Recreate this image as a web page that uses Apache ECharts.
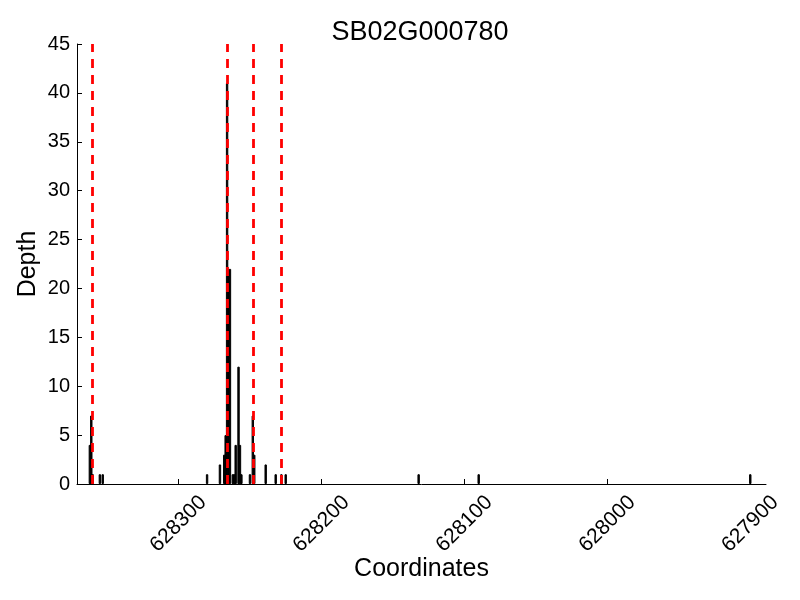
<!DOCTYPE html>
<html>
<head>
<meta charset="utf-8">
<script src="https://cdn.jsdelivr.net/npm/echarts@6/dist/echarts.min.js"></script>
<style>html,body{margin:0;padding:0;background:#fff}#c{width:800px;height:600px}</style>
</head>
<body>
<div id="c"></div>
<script>
const title = 'SB02G000780';
const positions = [628362, 628361, 628360, 628355, 628353, 628280, 628271, 628268, 628267, 628266, 628265, 628264, 628262, 628261, 628260, 628258, 628257, 628256, 628250, 628248, 628247, 628239, 628232, 628228, 628225, 628132, 628090, 627900];
const depths    = [4, 7, 1, 1, 1, 1, 2, 3, 5, 41, 22, 22, 1, 1, 4, 12, 4, 1, 1, 7, 3, 2, 1, 1, 1, 1, 1, 1];
const boundaries = [628360, 628266, 628248, 628228];
const xTicks = [628300, 628200, 628100, 628000, 627900];
const xMin = 627889, xMax = 628371;
const yMax = 45, yStep = 5;

const font = 'Liberation Sans';
const chart = echarts.init(document.getElementById('c'), null, {renderer: 'canvas'});
chart.setOption({
  animation: false,
  backgroundColor: '#fff',
  title: {
    text: title, left: 415, top: 14, textAlign: 'center',
    textStyle: {fontFamily: font, fontSize: 27, fontWeight: 'normal', color: '#000'}
  },
  grid: {left: 77, right: 34, top: 44, bottom: 116},
  xAxis: {
    type: 'value', inverse: true, min: xMin, max: xMax,
    name: 'Coordinates', nameLocation: 'middle', nameGap: 73, nameMoveOverlap: false,
    nameTextStyle: {fontFamily: font, fontSize: 25, color: '#000'},
    axisLine: {show: true, lineStyle: {color: '#000', width: 1}},
    axisTick: {show: true, inside: true, length: 5, customValues: xTicks, lineStyle: {color: '#000'}},
    axisLabel: {customValues: xTicks, rotate: 45, align: 'center', verticalAlign: 'middle', margin: 40,
      fontFamily: font, fontSize: 21, color: '#000', formatter: v => String(v)},
    splitLine: {show: false}
  },
  yAxis: {
    type: 'value', min: 0, max: yMax, interval: yStep,
    name: 'Depth', nameLocation: 'middle', nameGap: 36, nameRotate: 90, nameMoveOverlap: false,
    nameTextStyle: {fontFamily: font, fontSize: 25, color: '#000'},
    axisLine: {show: true, lineStyle: {color: '#000', width: 1}},
    axisTick: {show: true, inside: true, length: 5, lineStyle: {color: '#000'}},
    axisLabel: {margin: 7, fontFamily: font, fontSize: 20, color: '#000'},
    splitLine: {show: false}
  },
  series: [
    {
      type: 'bar', barWidth: 2.4, z: 2,
      data: positions.map((p, i) => [p, depths[i]]),
      itemStyle: {color: '#000', borderColor: '#000', borderWidth: 1}
    },
    {
      type: 'line', data: [], z: 5,
      markLine: {
        silent: true, symbol: ['none', 'none'], label: {show: false},
        lineStyle: {color: '#ff0000', type: [9, 7], width: 2.8},
        data: boundaries.map(b => ({xAxis: b}))
      }
    }
  ]
});
</script>
</body>
</html>
